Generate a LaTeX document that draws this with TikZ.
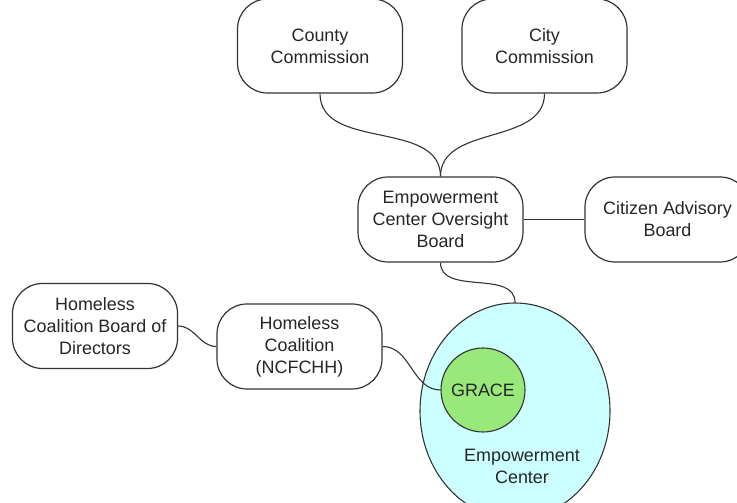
\documentclass[tikz,border=0pt]{standalone}
\usepackage{xcolor}
\usepackage{fontspec}
\usepackage{tikz}
\usetikzlibrary{shapes.geometric}
\setmainfont{Liberation Sans}
\definecolor{ecline}{HTML}{333333}
\definecolor{ectext}{HTML}{262626}
\definecolor{ecfill}{HTML}{CCFFFF}
\definecolor{gracefill}{HTML}{99E87A}

\begin{document}
\begin{tikzpicture}[
  x=1bp, y=1bp,
  body/.style={
    draw=ecline, fill=white, line width=1.2bp, rounded corners=30bp,
    minimum width=165bp, minimum height=85bp, align=center, inner sep=0pt,
    text=ectext, font=\fontsize{18}{22}\selectfont
  },
  topbody/.style={body, minimum height=94bp},
  link/.style={draw=ecline, line width=1.1bp},
]
\useasboundingbox (0,0) rectangle (737,503);
\clip (0,0) rectangle (737,503);

% Empowerment Center and GRACE
\node[ellipse, draw=ecline, fill=ecfill, line width=1.1bp, minimum width=190bp,
  minimum height=216bp, inner sep=0pt] (ec) at (515, 92) {};
\node[circle, draw=ecline, fill=gracefill, line width=1.1bp, minimum size=84bp,
  inner sep=0pt, text=ectext, font=\fontsize{18}{22}\selectfont] (grace) at (483, 113) {GRACE};
\node[align=center, text=ectext, font=\fontsize{18}{22}\selectfont] (eclabel) at (522, 37)
  {Empowerment\\Center};

% Commissions
\node[topbody] (county) at (320, 457) {County\\Commission};
\node[topbody] (city)   at (544.5, 457) {City\\Commission};

% Boards
\node[body] (oversight) at (440.5, 283.5) {Empowerment\\Center Oversight\\Board};
\node[body] (citizen)   at (667.5, 283.5) {Citizen Advisory\\Board};

% Homeless Coalition
\node[body] (hcboard) at (95, 177)    {Homeless\\Coalition Board of\\Directors};
\node[body] (hc)      at (299.5, 156.5) {Homeless\\Coalition\\(NCFCHH)};

% Links
\draw[link] (county.south) to[out=-90, in=90] (oversight.north);
\draw[link] (city.south)   to[out=-90, in=90] (oversight.north);
\draw[link] (oversight.east) -- (citizen.west);
\draw[link] (oversight.south) to[out=-90, in=90] (ec.north);
\draw[link] (hcboard.east) to[out=0, in=180] (hc.west);
\draw[link] (hc.east) to[out=0, in=180] (grace.west);

\end{tikzpicture}
\end{document}
